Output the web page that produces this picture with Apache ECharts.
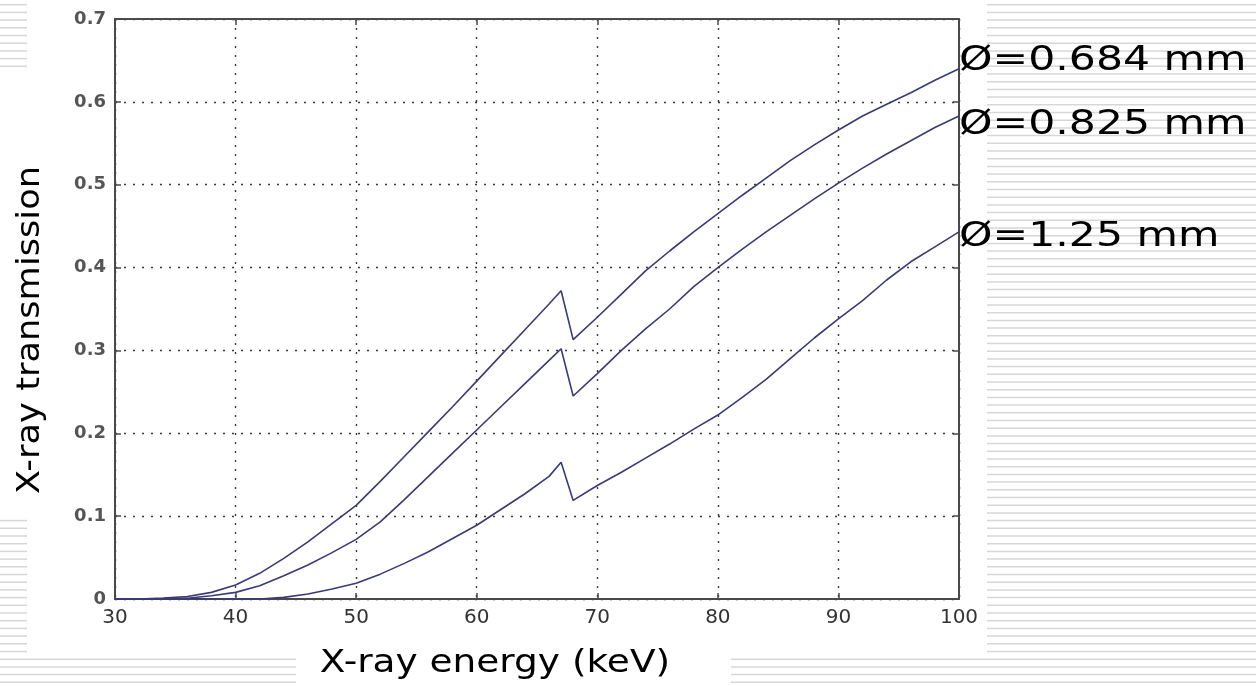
<!DOCTYPE html>
<html>
<head>
<meta charset="utf-8">
<script src="https://cdn.jsdelivr.net/npm/echarts/dist/echarts.min.js"></script>
<style>
  html, body { margin: 0; padding: 0; background: #ffffff; }
  #chart { width: 1256px; height: 686px; }
</style>
</head>
<body>
<div id="chart"></div>
<script>
// Photon energy samples (keV)
const energy = [30, 32, 34, 36, 38, 40, 42, 44, 46, 48, 50, 52, 54, 56, 58, 60, 62, 64, 66, 67,
                68, 70, 72, 74, 76, 78, 80, 82, 84, 86, 88, 90, 92, 94, 96, 98, 100];

// Transmission for each wire diameter
const trans0684 = [0.000, 0.000, 0.001, 0.003, 0.008, 0.017, 0.031, 0.049, 0.069, 0.091, 0.113, 0.142, 0.172, 0.202, 0.232, 0.263, 0.294, 0.325, 0.356, 0.372,
                   0.313, 0.340, 0.368, 0.396, 0.420, 0.443, 0.465, 0.487, 0.508, 0.529, 0.548, 0.566, 0.583, 0.597, 0.611, 0.626, 0.640];
const trans0825 = [0.000, 0.000, 0.000, 0.001, 0.004, 0.008, 0.016, 0.028, 0.041, 0.056, 0.072, 0.093, 0.120, 0.148, 0.176, 0.204, 0.232, 0.260, 0.288, 0.302,
                   0.245, 0.272, 0.300, 0.326, 0.350, 0.377, 0.400, 0.422, 0.443, 0.463, 0.483, 0.502, 0.520, 0.537, 0.553, 0.569, 0.583];
const trans125  = [0.000, 0.000, 0.000, 0.000, 0.000, 0.000, 0.000, 0.002, 0.006, 0.012, 0.019, 0.030, 0.043, 0.057, 0.073, 0.089, 0.108, 0.127, 0.148, 0.165,
                   0.119, 0.137, 0.153, 0.170, 0.187, 0.205, 0.222, 0.243, 0.265, 0.290, 0.315, 0.338, 0.360, 0.385, 0.407, 0.425, 0.443];

const seriesNames = ['\u00D8=0.684 mm', '\u00D8=0.825 mm', '\u00D8=1.25 mm'];
const seriesValues = [trans0684, trans0825, trans125];

const xTitle = 'X-ray energy (keV)';
const yTitle = 'X-ray transmission';

const chart = echarts.init(document.getElementById('chart'), null, { renderer: 'canvas' });

const LINE_COLOR = '#3a3a78';
const AXIS_COLOR = '#4a4a4a';
const GRID_DOTS = { color: '#3a3a3a', width: 1.4, type: [2, 7] };

function pairs(values) {
  return energy.map((e, i) => [e, values[i]]);
}

// Slide background: thin horizontal rules around the plot panel
function stripeGraphics() {
  const out = [];
  const step = 7.7, y0 = 4.7;
  const add = (x1, x2, y) => out.push({
    type: 'line', silent: true, z: 0,
    shape: { x1: x1, y1: y, x2: x2, y2: y },
    style: { stroke: '#d7d7d7', lineWidth: 1.5 }
  });
  for (let k = 0; k <= 88; k++) {
    const y = y0 + k * step;
    if (k <= 84) add(987, 1256, y);
    if (k <= 8 || (k >= 67 && k <= 84)) add(0, 27, y);
    if (k >= 85) { add(0, 296, y); add(731, 1256, y); }
  }
  return out;
}

const baseAxis = {
  type: 'value',
  axisLine: { show: true, onZero: false, lineStyle: { color: AXIS_COLOR, width: 2 } },
  axisTick: { show: true, inside: true, length: 6, lineStyle: { color: AXIS_COLOR, width: 1.5 } },
};

chart.setOption({
  animation: false,
  backgroundColor: '#ffffff',
  grid: { left: 115, top: 19, width: 844, height: 580, containLabel: false },
  xAxis: [
    Object.assign({}, baseAxis, {
      min: 30, max: 100, interval: 10, position: 'bottom',
      axisLabel: { color: '#333', fontFamily: 'DejaVu Sans', fontSize: 20, margin: 9 },
      splitLine: { show: true, lineStyle: GRID_DOTS }
    }),
    Object.assign({}, baseAxis, {
      min: 30, max: 100, interval: 10, position: 'top',
      axisLabel: { show: false }, splitLine: { show: false }
    })
  ],
  yAxis: [
    Object.assign({}, baseAxis, {
      min: 0, max: 0.7, interval: 0.1, position: 'left',
      axisLabel: {
        color: '#555', fontFamily: 'DejaVu Sans', fontWeight: 'bold', fontSize: 18, margin: 9,
        formatter: v => (v === 0 ? '0' : v.toFixed(1))
      },
      splitLine: { show: true, lineStyle: GRID_DOTS }
    }),
    Object.assign({}, baseAxis, {
      min: 0, max: 0.7, interval: 0.1, position: 'right',
      axisLabel: { show: false }, splitLine: { show: false }
    })
  ],
  series: seriesValues.map((vals, i) => ({
    name: seriesNames[i],
    type: 'line',
    data: pairs(vals),
    showSymbol: false,
    smooth: false,
    lineStyle: { color: LINE_COLOR, width: 1.6 },
    z: 5
  }))
});

// Curve labels placed at the end of each line, plus axis titles
const labelOffsets = [-7, 9, 5];
const labels = seriesValues.map((vals, i) => {
  const p = chart.convertToPixel({ xAxisIndex: 0, yAxisIndex: 0 }, [energy[energy.length - 1], vals[vals.length - 1]]);
  return {
    type: 'text', silent: true, z: 10,
    x: p[0], y: p[1] + labelOffsets[i], scaleX: 1.29,
    style: {
      text: seriesNames[i], fill: '#000', font: '33px "DejaVu Sans"',
      textAlign: 'left', textVerticalAlign: 'middle'
    }
  };
});

chart.setOption({
  graphic: stripeGraphics().concat(labels, [
    {
      type: 'text', silent: true, z: 10,
      x: 495, y: 664, scaleX: 1.17,
      style: { text: xTitle, fill: '#000', font: '32px "DejaVu Sans"', textAlign: 'center', textVerticalAlign: 'middle' }
    },
    {
      type: 'text', silent: true, z: 10,
      x: 31, y: 330, rotation: Math.PI / 2, scaleX: 1.1,
      style: { text: yTitle, fill: '#000', font: '32px "DejaVu Sans"', textAlign: 'center', textVerticalAlign: 'middle' }
    }
  ])
});
</script>
</body>
</html>
